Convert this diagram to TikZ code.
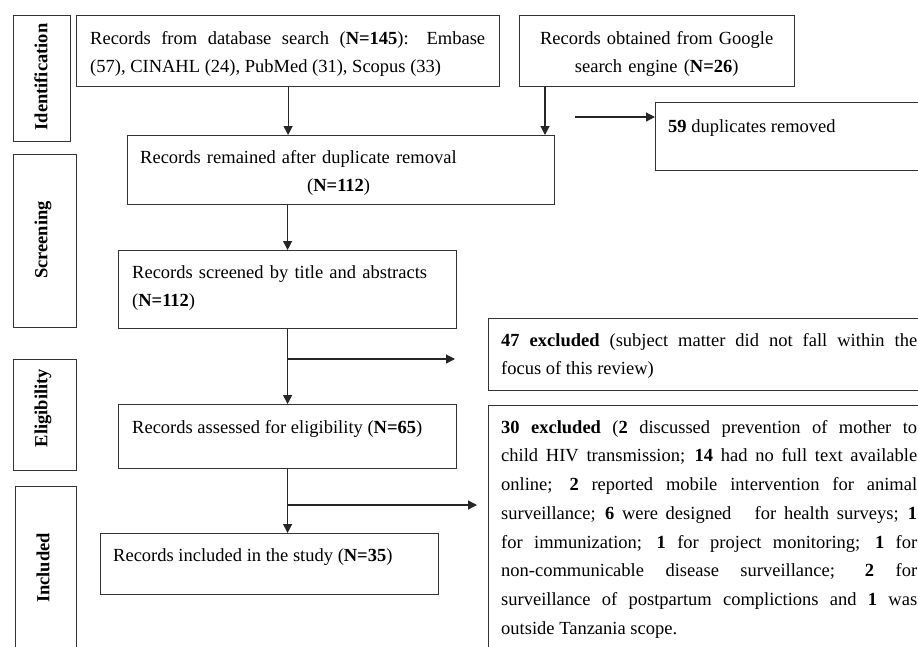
\documentclass[tikz,border=0pt]{standalone}
\usepackage{fontspec}
\setmainfont{Liberation Serif}
\usetikzlibrary{arrows.meta,calc}
\newcommand\bodysize{\fontsize{18.5}{28.75}\selectfont}
\begin{document}
\begin{tikzpicture}[x=1pt,y=-1pt,
    box/.style={draw=black!80,line width=1.2pt,inner sep=0pt,anchor=north west},
    txt/.style={inner sep=0pt,anchor=base west,align=left,font=\bodysize},
    jtxt/.style={txt,align=justify},
    side/.style={inner sep=0pt,rotate=90,font=\bodysize\bfseries},
    arr/.style={draw=black!85,line width=1.2pt,-{Triangle[length=9pt,width=9pt]}}]
  \useasboundingbox (0,0) rectangle (918,646);
  \clip (0,0) rectangle (918,646);
  % phases on the left
  \node[box,minimum width=57pt,minimum height=126pt] (idB) at (13,15) {};
  \node[box,minimum width=63pt,minimum height=173pt] (scB) at (13,154) {};
  \node[box,minimum width=63pt,minimum height=111pt] (elB) at (13,359) {};
  \node[box,minimum width=61pt,minimum height=200pt] (inB) at (15,486) {};
  \node[side] (idL) at (41,77) {Identification};
  \node[side] (scL) at (43,240) {Screening};
  \node[side] (elL) at (43,408) {Eligibility};
  \node[side] (inL) at (43,568) {Included};
  % boxes
  \node[box,minimum width=423pt,minimum height=71pt] (db) at (76,15) {};
  \node[box,minimum width=275pt,minimum height=71pt] (ggl) at (519,15) {};
  \node[box,minimum width=300pt,minimum height=68pt] (dup) at (655,102) {};
  \node[box,minimum width=427pt,minimum height=69pt] (rem) at (127,135) {};
  \node[box,minimum width=338pt,minimum height=78pt] (scr) at (118,250) {};
  \node[box,minimum width=450pt,minimum height=72pt] (exa) at (488,318) {};
  \node[box,minimum width=338pt,minimum height=64pt] (ass) at (118,404) {};
  \node[box,minimum width=450pt,minimum height=260pt] (exb) at (488,405) {};
  \node[box,minimum width=338pt,minimum height=61pt] (inc) at (100,533) {};
  % texts
  \node[jtxt,text width=395pt] (dbT) at (90,44) {Records from database search (\textbf{N=145}): Embase\linebreak (57), CINAHL (24), PubMed (31), Scopus (33)};
  \node[txt,align=center,text width=275pt] (gglT) at (519,44) {Records obtained from Google\\search engine (\textbf{N=26})};
  \node[txt] (dupT) at (668,132) {\textbf{59} duplicates removed};
  \node[txt,text width=400pt] (remT) at (140,163) {Records remained after duplicate removal\\\hspace*{167pt}(\textbf{N=112})};
  \node[txt,text width=320pt] (scrT) at (132,278) {Records screened by title and abstracts\\(\textbf{N=112})};
  \node[jtxt,text width=416pt] (exaT) at (501,346) {\textbf{47 excluded} (subject matter did not fall within the\linebreak focus of this review)};
  \node[txt] (assT) at (132,433) {Records assessed for eligibility (\textbf{N=65})};
  \node[jtxt,text width=416pt] (exbT) at (501,433) {\textbf{30 excluded} (\textbf{2} discussed prevention of mother to\linebreak
    child HIV transmission; \textbf{14} had no full text available\linebreak
    online; \textbf{2} reported mobile intervention for animal\linebreak
    surveillance; \textbf{6} were designed \ \ for health surveys; \textbf{1}\linebreak
    for immunization; \textbf{1} for project monitoring; \textbf{1} for\linebreak
    non-communicable disease surveillance; \textbf{2} for\linebreak
    surveillance of postpartum complictions and \textbf{1} was\linebreak
    outside Tanzania scope.};
  \node[txt] (incT) at (113,561) {Records included in the study (\textbf{N=35})};
  % connectors
  \draw[arr] (db.south) -- (db.south |- rem.north);
  \draw[arr] ([xshift=26pt]ggl.south west) -- ([xshift=26pt]ggl.south west |- rem.north);
  \coordinate (dupS) at (575,117);
  \draw[arr] (dupS) -- (dupS -| dup.west);
  \draw[arr] (rem.south -| scr.north) -- (scr.north);
  \draw[arr] (scr.south) -- (ass.north);
  \coordinate (exaS) at (455,359);
  \draw[arr] (scr.south |- exaS) -- (exaS);
  \draw[arr] (ass.south) -- (ass.south |- inc.north);
  \coordinate (exbS) at (477,505);
  \draw[arr] (ass.south |- exbS) -- (exbS);
\end{tikzpicture}
\end{document}
